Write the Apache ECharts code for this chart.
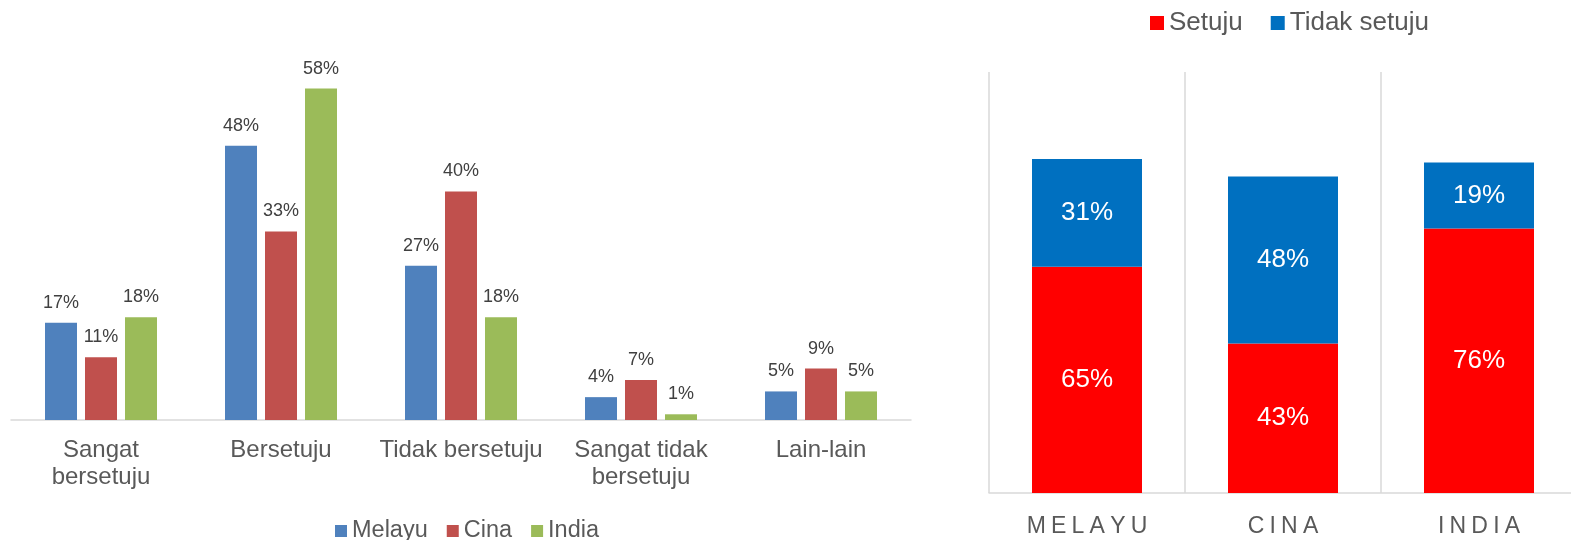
<!DOCTYPE html>
<html>
<head>
<meta charset="utf-8">
<script src="https://cdn.jsdelivr.net/npm/echarts@6/dist/echarts.min.js"></script>
<style>
html,body{margin:0;padding:0;background:#fff;overflow:hidden;}
#c{width:1580px;height:540px;}
</style>
</head>
<body>
<div id="c"></div>
<script>
// Left chart data
const leftCategories = ['Sangat\nbersetuju', 'Bersetuju', 'Tidak bersetuju', 'Sangat tidak\nbersetuju', 'Lain-lain'];
const melayu = [17, 48, 27, 4, 5];
const cina = [11, 33, 40, 7, 9];
const india = [18, 58, 18, 1, 5];

// Right chart data
const rightCategories = ['MELAYU', 'CINA', 'INDIA'];
const setuju = [65, 43, 76];
const tidakSetuju = [31, 48, 19];

const FONT = '"Liberation Sans", Arial, sans-serif';
const chart = echarts.init(document.getElementById('c'), null, {renderer: 'canvas'});

const leftLabel = {
  show: true, position: 'top', distance: 11,
  formatter: p => p.value + '%',
  color: '#404040', fontSize: 18, fontFamily: FONT
};
const rightLabel = {
  show: true, position: 'inside',
  formatter: p => p.value + '%',
  color: '#ffffff', fontSize: 26, fontFamily: FONT
};

chart.setOption({
  animation: false,
  backgroundColor: '#ffffff',
  textStyle: {fontFamily: FONT},
  grid: [
    {left: 11, width: 900, top: 20, height: 400},
    {left: 989, width: 588, top: 72, height: 421}
  ],
  legend: [
    {
      data: ['Melayu', 'Cina', 'India'],
      left: 330, top: 514,
      itemWidth: 12, itemHeight: 12, itemGap: 19,
      icon: 'rect',
      textStyle: {color: '#595959', fontSize: 23.5, fontFamily: FONT}
    },
    {
      data: ['Setuju', 'Tidak setuju'],
      left: 1145, top: 5,
      itemWidth: 14, itemHeight: 14, itemGap: 28,
      icon: 'rect',
      textStyle: {color: '#595959', fontSize: 26, fontFamily: FONT}
    }
  ],
  xAxis: [
    {
      type: 'category', gridIndex: 0, data: leftCategories,
      axisLine: {lineStyle: {color: '#d9d9d9', width: 1.5}},
      axisTick: {show: false},
      axisLabel: {color: '#595959', fontSize: 24, lineHeight: 27, margin: 17, interval: 0, fontFamily: FONT}
    },
    {
      type: 'category', gridIndex: 1, data: rightCategories,
      axisLine: {lineStyle: {color: '#d9d9d9', width: 1.5}},
      axisTick: {show: false},
      splitLine: {show: true, lineStyle: {color: '#d9d9d9', width: 1.5}},
      axisLabel: {
        margin: 22, interval: 0,
        formatter: v => v.split('').map(ch => '{l|' + ch + '}').join(''),
        rich: {l: {color: '#595959', fontSize: 23, fontFamily: FONT, padding: [0, 2.6, 0, 2.6]}}
      }
    }
  ],
  yAxis: [
    {type: 'value', gridIndex: 0, min: 0, max: 70, show: false, splitLine: {show: false}},
    {type: 'value', gridIndex: 1, min: 0, max: 121, show: false, splitLine: {show: false}}
  ],
  series: [
    {name: 'Melayu', type: 'bar', xAxisIndex: 0, yAxisIndex: 0, data: melayu, barWidth: 32, barGap: '25%', itemStyle: {color: '#4F81BD'}, label: leftLabel},
    {name: 'Cina', type: 'bar', xAxisIndex: 0, yAxisIndex: 0, data: cina, barWidth: 32, barGap: '25%', itemStyle: {color: '#C0504D'}, label: leftLabel},
    {name: 'India', type: 'bar', xAxisIndex: 0, yAxisIndex: 0, data: india, barWidth: 32, barGap: '25%', itemStyle: {color: '#9BBB59'}, label: leftLabel},
    {name: 'Setuju', type: 'bar', xAxisIndex: 1, yAxisIndex: 1, stack: 'r', data: setuju, barWidth: 110, itemStyle: {color: '#FF0000'}, label: rightLabel},
    {name: 'Tidak setuju', type: 'bar', xAxisIndex: 1, yAxisIndex: 1, stack: 'r', data: tidakSetuju, barWidth: 110, itemStyle: {color: '#0070C0'}, label: rightLabel}
  ]
});
</script>
</body>
</html>
